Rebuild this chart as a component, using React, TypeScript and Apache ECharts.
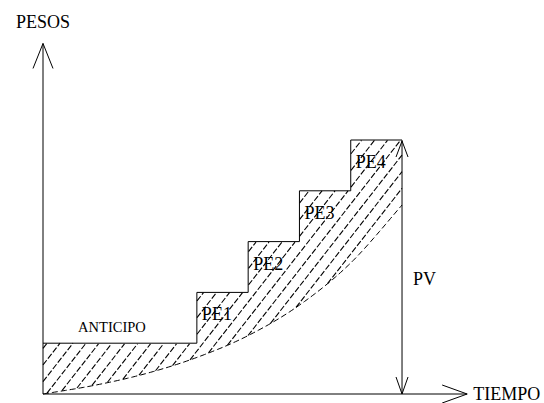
import React, { useEffect, useRef } from 'react';
import * as echarts from 'echarts';

// ---- data ----
const stepTimes = [0, 3, 4, 5, 6]; // start of each payment level
const endTime = 7;
const paymentLevels = [1, 2, 3, 4, 5];
const paymentLabels = ['ANTICIPO', 'PE1', 'PE2', 'PE3', 'PE4'];
const pvTimes = [0, 1, 2, 3, 4, 5, 6, 7];
const pvValues = [0, 0.17, 0.4, 0.72, 1.15, 1.75, 2.58, 3.72];
const xAxisName = 'TIEMPO';
const yAxisName = 'PESOS';
const xAxisMax = 8.27;
const yAxisMax = 6.9;
const pvLabel = 'PV';
const pvLabelValue = 2.26;

const INK = '#000';
const FONT = "'Liberation Serif', 'Times New Roman', serif";

function stairData(): number[][] {
  const d = stepTimes.map((t, i) => [t, paymentLevels[i]]);
  d.push([endTime, paymentLevels[paymentLevels.length - 1]]);
  return d;
}

function smoothPts(pts: number[][]): number[][] {
  const out: number[][] = [];
  const n = pts.length;
  for (let i = 0; i < n - 1; i++) {
    const p0 = pts[Math.max(i - 1, 0)];
    const p1 = pts[i];
    const p2 = pts[i + 1];
    const p3 = pts[Math.min(i + 2, n - 1)];
    const S = 20;
    for (let s = 0; s < S; s++) {
      const t = s / S;
      const t2 = t * t;
      const t3 = t2 * t;
      const f = (k: number) =>
        0.5 *
        (2 * p1[k] +
          (-p0[k] + p2[k]) * t +
          (2 * p0[k] - 5 * p1[k] + 4 * p2[k] - p3[k]) * t2 +
          (-p0[k] + 3 * p1[k] - 3 * p2[k] + p3[k]) * t3);
      out.push([f(0), f(1)]);
    }
  }
  out.push(pts[n - 1]);
  return out;
}

function curvePixels(api: any): number[][] {
  return smoothPts(pvTimes.map((t, i) => api.coord([t, pvValues[i]])));
}

function stairSegs(api: any): number[][] {
  return stepTimes.map((t, i) => {
    const next = i < stepTimes.length - 1 ? stepTimes[i + 1] : endTime;
    const a = api.coord([t, paymentLevels[i]]);
    const b = api.coord([next, paymentLevels[i]]);
    return [a[0], b[0], a[1]];
  });
}

function renderHatch(_params: any, api: any) {
  const curve = curvePixels(api);
  const segs = stairSegs(api);
  const topAt = (px: number) => {
    for (const s of segs) if (px >= s[0] - 0.01 && px <= s[1] + 0.01) return s[2];
    return NaN;
  };
  const botAt = (px: number) => {
    for (let i = 0; i < curve.length - 1; i++) {
      const a = curve[i];
      const b = curve[i + 1];
      if (px >= a[0] - 0.01 && px <= b[0] + 0.01) {
        const d = b[0] - a[0];
        const f = d ? (px - a[0]) / d : 0;
        return a[1] + f * (b[1] - a[1]);
      }
    }
    return NaN;
  };
  const xL = segs[0][0];
  const xR = segs[segs.length - 1][1];
  const slope = 1.28;
  const spacing = 13;
  const dc = spacing * slope;
  let cMin = Infinity;
  let cMax = -Infinity;
  for (let px = xL; px <= xR; px += 1) {
    const t = topAt(px);
    const b = botAt(px);
    if (!isNaN(t)) cMin = Math.min(cMin, t + slope * px);
    if (!isNaN(b)) cMax = Math.max(cMax, b + slope * px);
  }
  const children: any[] = [];
  const style = { stroke: INK, lineWidth: 1.1, lineDash: [6, 2] };
  const push = (a: number[], b: number[]) => {
    if (Math.hypot(b[0] - a[0], b[1] - a[1]) < 1.5) return;
    children.push({
      type: 'line',
      shape: { x1: a[0], y1: a[1], x2: b[0], y2: b[1] },
      style,
      silent: true,
    });
  };
  const c0 = Math.ceil(cMin / dc) * dc + 4;
  for (let c = c0; c <= cMax; c += dc) {
    let start: number[] | null = null;
    let prev: number[] | null = null;
    for (let px = xL; px <= xR + 0.001; px += 0.5) {
      const py = c - slope * px;
      const t = topAt(px);
      const b = botAt(px);
      const inside = py >= t && py <= b;
      if (inside) {
        if (!start) start = [px, py];
        prev = [px, py];
      } else if (start && prev) {
        push(start, prev);
        start = null;
        prev = null;
      }
    }
    if (start && prev) push(start, prev);
  }
  return { type: 'group', children };
}

function renderCurve(_params: any, api: any) {
  return {
    type: 'polyline',
    shape: { points: curvePixels(api) },
    style: { stroke: INK, lineWidth: 1, lineDash: [6, 3], fill: null },
    silent: true,
  };
}

function vArrow(tip: number[], dir: number, len: number, half: number, w = 1) {
  return [
    { type: 'line', shape: { x1: tip[0], y1: tip[1], x2: tip[0] - half, y2: tip[1] + dir * len }, style: { stroke: INK, lineWidth: w } },
    { type: 'line', shape: { x1: tip[0], y1: tip[1], x2: tip[0] + half, y2: tip[1] + dir * len }, style: { stroke: INK, lineWidth: w } },
  ];
}

function renderFrame(_params: any, api: any) {
  const o = api.coord([0, 0]);
  const yTop = api.coord([0, yAxisMax]);
  const xEnd = api.coord([xAxisMax, 0]);
  const pvTop = api.coord([endTime, paymentLevels[paymentLevels.length - 1]]);
  const pvBot = api.coord([endTime, 0]);
  const ls = { stroke: INK, lineWidth: 1 };
  const children: any[] = [
    { type: 'line', shape: { x1: o[0], y1: o[1], x2: yTop[0], y2: yTop[1] }, style: ls },
    { type: 'line', shape: { x1: o[0], y1: o[1], x2: xEnd[0], y2: xEnd[1] }, style: ls },
    ...vArrow(yTop, 1, 25, 10),
    { type: 'line', shape: { x1: xEnd[0], y1: xEnd[1], x2: xEnd[0] - 25, y2: xEnd[1] - 9 }, style: ls },
    { type: 'line', shape: { x1: xEnd[0], y1: xEnd[1], x2: xEnd[0] - 25, y2: xEnd[1] + 9 }, style: ls },
    { type: 'line', shape: { x1: pvTop[0], y1: pvTop[1], x2: pvBot[0], y2: pvBot[1] }, style: ls },
    ...vArrow([pvTop[0], pvTop[1] + 1], 1, 16, 6, 1),
    ...vArrow(pvBot, -1, 17, 6, 1),
  ];
  return { type: 'group', children, silent: true };
}

function txt(x: number, y: number, text: string, size: number, align: string) {
  return {
    type: 'text',
    x,
    y,
    style: {
      text,
      fontFamily: FONT,
      fontSize: size,
      fill: INK,
      align,
      verticalAlign: 'middle',
    },
    silent: true,
  };
}

function renderLabels(_params: any, api: any) {
  const children: any[] = [];
  const yTop = api.coord([0, yAxisMax]);
  const xEnd = api.coord([xAxisMax, 0]);
  children.push(txt(yTop[0], yTop[1] - 21, yAxisName, 18, 'center'));
  children.push(txt(xEnd[0] + 6, xEnd[1], xAxisName, 18, 'left'));
  const pv = api.coord([endTime, pvLabelValue]);
  children.push(txt(pv[0] + 11, pv[1], pvLabel, 18, 'left'));
  paymentLabels.forEach((lab, i) => {
    if (i === 0) {
      const next = stepTimes[1];
      const p = api.coord([(stepTimes[0] + next) / 2, paymentLevels[0]]);
      children.push(txt(p[0] - 8, p[1] - 16, lab, 14.5, 'center'));
    } else {
      const p = api.coord([stepTimes[i], paymentLevels[i]]);
      children.push(txt(p[0] + 5, p[1] + 22, lab, 18, 'left'));
    }
  });
  return { type: 'group', children, silent: true };
}

export default function App() {
  const ref = useRef<HTMLDivElement>(null);
  useEffect(() => {
    if (!ref.current) return;
    const chart = echarts.init(ref.current, undefined, { renderer: 'svg' });
    const unitX = 51.29;
    const unitY = 50.8;
    const left = 43;
    const bottom = 9;
    const W = 544;
    const H = 403;
    chart.setOption({
      animation: false,
      backgroundColor: '#fff',
      grid: {
        left,
        bottom,
        right: W - left - xAxisMax * unitX,
        top: H - bottom - yAxisMax * unitY,
      },
      xAxis: { type: 'value', min: 0, max: xAxisMax, show: false },
      yAxis: { type: 'value', min: 0, max: yAxisMax, show: false },
      series: [
        { type: 'custom', name: 'hatch', renderItem: renderHatch, data: [[0, 0]], z: 1 },
        { type: 'custom', name: 'pv', renderItem: renderCurve, data: [[0, 0]], z: 2 },
        {
          type: 'line',
          name: 'pagos',
          step: 'end',
          data: stairData(),
          symbol: 'none',
          lineStyle: { color: INK, width: 1 },
          silent: true,
          z: 3,
        },
        { type: 'custom', name: 'frame', renderItem: renderFrame, data: [[0, 0]], z: 4 },
        { type: 'custom', name: 'labels', renderItem: renderLabels, data: [[0, 0]], z: 5 },
      ],
    });
    return () => chart.dispose();
  }, []);
  return (
    <div
      ref={ref}
      style={{ position: 'fixed', left: 0, top: 0, width: 544, height: 403, background: '#fff' }}
    />
  );
}
